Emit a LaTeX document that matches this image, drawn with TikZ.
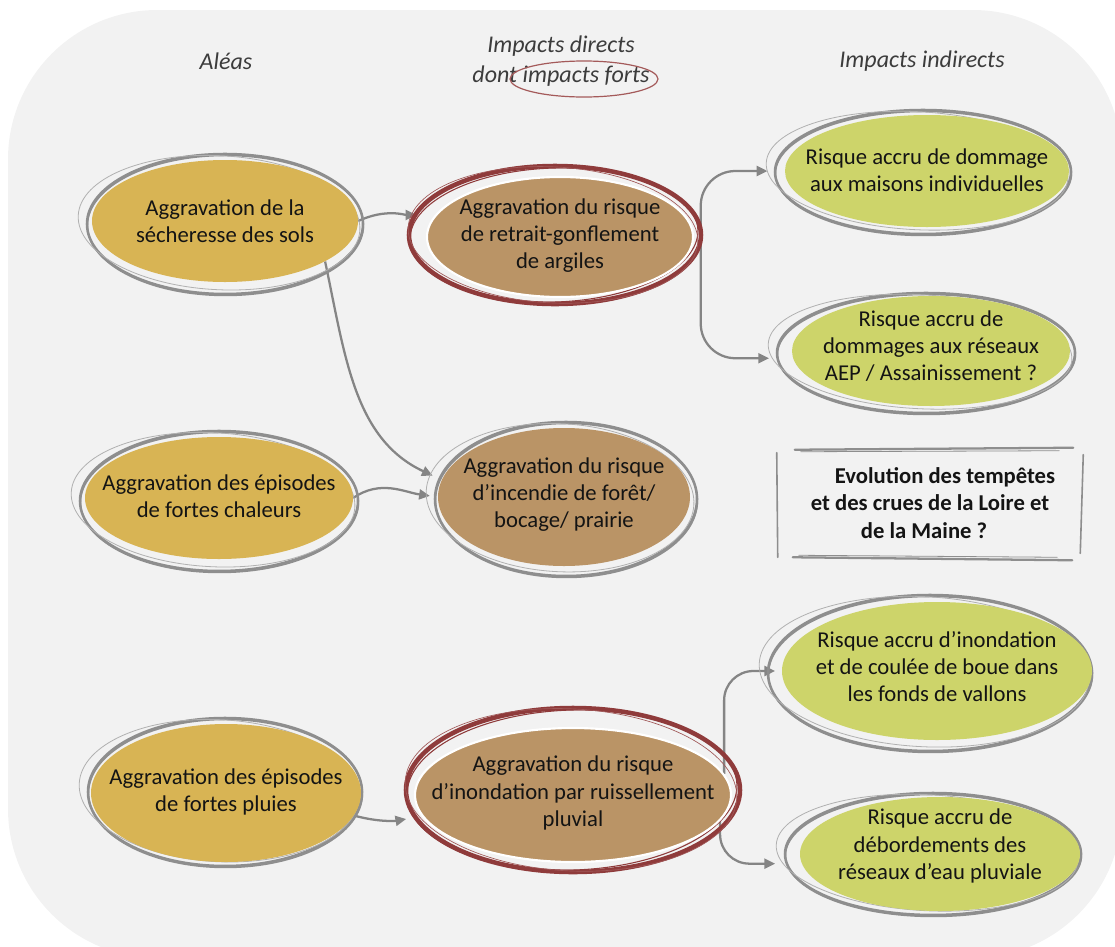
\documentclass[tikz,border=0pt]{standalone}
\usepackage{fontspec}
\setmainfont{Carlito}
\usetikzlibrary{arrows.meta,shapes.geometric,calc}

\definecolor{bgc}{HTML}{F2F2F2}
\definecolor{goldc}{HTML}{D8B454}
\definecolor{brownc}{HTML}{BA9466}
\definecolor{greenc}{HTML}{CDD46A}
\definecolor{redc}{HTML}{8F3B3B}
\definecolor{ringc}{HTML}{8E8E8E}
\definecolor{linkc}{HTML}{858585}
\definecolor{headc}{HTML}{3C3C3C}
\definecolor{txtc}{HTML}{141414}
\definecolor{titlering}{HTML}{A45A5A}

\pgfdeclarelayer{back}
\pgfdeclarelayer{links}
\pgfsetlayers{back,links,main}

\tikzset{
  bubble/.style={ellipse, inner sep=0pt},
  bubbletext/.style={align=center, text=txtc, inner sep=0pt,
    font=\fontsize{17}{20.3}\selectfont},
  strong/.style={draw=white, line width=1.6pt},
  head/.style={align=center, text=headc, inner sep=0pt,
    font=\fontsize{18}{22.5}\selectfont\itshape},
  link/.style={draw=linkc, line width=1.7pt, -{Triangle[length=8pt,width=7.5pt]}},
  boxtext/.style={align=center, text=txtc, inner sep=0pt,
    font=\fontsize{17}{20.8}\selectfont\bfseries},
  frame/.style={draw=ringc, line cap=round},
}

% ellipse: name, cx, cy, x radius, y radius, options, text y, text
\newcommand\bubblenode[8]{%
  \node[bubble, #6, minimum width={#4*1.5pt}, minimum height={#5*1.5pt}] (#1) at (#2,#3) {};
  \node[bubbletext] (#1-t) at (#2,#7) {#8};}

% hand-drawn grey outline: cx, cy, x radius, y radius
\newcommand\grayring[4]{%
  \draw[ringc, line width=1.9pt] (#1,#2) ellipse [x radius=#3, y radius=#4];
  \draw[ringc, line width=1.1pt] (#1+0.5,#2+1.5) ellipse [x radius=#3, y radius=#4];
  \draw[ringc!70, line width=0.6pt, rotate around={-3:(#1,#2)}]
    (#1-6,#2-1) ellipse [x radius=#3+3, y radius=#4-3];}

% hand-drawn dark red outline: cx, cy, x radius, y radius
\newcommand\redring[4]{%
  \draw[redc, line width=3.4pt] (#1,#2) ellipse [x radius=#3, y radius=#4];
  \draw[redc, line width=0.8pt, rotate around={2:(#1,#2)}]
    (#1-1,#2) ellipse [x radius=#3-2, y radius=#4-2];
  \draw[redc!85!white, line width=0.5pt, rotate around={-3:(#1,#2)}]
    (#1-2,#2) ellipse [x radius=#3-1, y radius=#4-1];}

\begin{document}
\begin{tikzpicture}[x=0.75pt, y=-0.75pt]
\useasboundingbox (0,0) rectangle (1115,947);

\begin{pgfonlayer}{back}
  \begin{scope}
    \clip (0,0) rectangle (1115,947);
    \fill[bgc, rounded corners=112pt] (8,10) rectangle (1122,958);
  \end{scope}
\end{pgfonlayer}

% column headings
\node[head] (hA) at (226,61) {Aléas};
\node[head] (hB) at (561,61) {Impacts directs\\dont impacts forts};
\node[head] (hC) at (922,61) {Impacts indirects};
\draw[titlering, line width=0.9pt] (584,79) ellipse [x radius=74, y radius=18];

% outlines
\grayring{225}{224}{138}{70}
\grayring{219}{501}{139}{70}
\grayring{225}{792}{137}{74}
\redring{555}{235}{146}{69}
\grayring{566}{499}{131}{77}
\redring{573}{790}{167}{82}
\grayring{923}{172}{148}{62}
\grayring{926}{353}{149}{60}
\grayring{930}{673}{162}{78}
\grayring{933}{854}{148}{61}

% hazards
\bubblenode{sech}{225}{221}{133}{61}{fill=goldc}{221}{Aggravation de la\\sécheresse des sols}
\bubblenode{chal}{219}{498}{134}{61}{fill=goldc}{496}{Aggravation des épisodes\\de fortes chaleurs}
\bubblenode{pluie}{226}{793}{135}{69}{fill=goldc}{792}{Aggravation des épisodes\\de fortes pluies}

% direct impacts
\bubblenode{retr}{560}{237}{133}{60}{fill=brownc, strong}{236}{Aggravation du risque\\de retrait-gonflement\\de argiles}
\bubblenode{inc}{564}{497}{126}{69}{fill=brownc}{495}{Aggravation du risque\\d’incendie de forêt/\\bocage/ prairie}
\bubblenode{ruis}{573}{795}{158}{67}{fill=brownc, strong}{793}{Aggravation du risque\\d’inondation par ruissellement\\pluvial}

% indirect impacts
\bubblenode{mais}{927}{171}{142}{56}{fill=greenc}{170}{Risque accru de dommage\\aux maisons individuelles}
\bubblenode{aep}{931}{351}{139}{55}{fill=greenc}{346}{Risque accru de\\dommages aux réseaux\\AEP / Assainissement ?}
\bubblenode{vall}{937}{671}{155}{69}{fill=greenc}{667}{Risque accru d’inondation\\et de coulée de boue dans\\les fonds de vallons}
\bubblenode{pluv}{940}{854}{140}{57}{fill=greenc}{846}{Risque accru de\\débordements des\\réseaux d’eau pluviale}

% open question box
\node[boxtext, minimum width=229.5pt, minimum height=82.5pt] (tbox) at (930,503)
  {\hspace*{22.5pt}Evolution des tempêtes\\et des crues de la Loire et\hspace*{9pt}\\de la Maine ?\hspace*{9pt}};
\draw[frame, line width=1.7pt] ($(tbox.north west)+(18,2)$) -- ($(tbox.north east)+(-10,0)$);
\draw[frame, line width=0.6pt] ($(tbox.north west)+(24,4)$) -- ($(tbox.north east)+(-24,3)$);
\draw[frame, line width=1.7pt] ($(tbox.south west)+(16,-1)$) -- ($(tbox.south east)+(-11,2)$);
\draw[frame, line width=0.6pt] ($(tbox.south west)+(22,-3)$) -- ($(tbox.south east)+(-26,-1)$);
\draw[frame, line width=1.2pt] ($(tbox.north west)+(0,5)$) -- ($(tbox.south west)+(1,-1)$);
\draw[frame, line width=1.2pt] ($(tbox.north east)+(0,7)$) -- ($(tbox.south east)+(-3,-5)$);

% connectors
\begin{pgfonlayer}{links}
  \draw[link, shorten >=14pt] (sech.east) to[out=25, in=180] (retr.170);
  \draw[link, shorten >=7.5pt] (sech.-22) to[out=-78, in=155] (inc.172);
  \draw[link, shorten >=6pt] (chal.east) to[out=35, in=172] (inc.west);
  \draw[link, rounded corners=26pt, shorten >=13pt] ([xshift=5pt]retr.east) |- (mais.west);
  \draw[link, rounded corners=26pt, shorten >=18pt] ([xshift=5pt]retr.east) |- (aep.183);
  \draw[link, rounded corners=22pt, shorten >=5pt] (ruis.8) |- (vall.west);
  \draw[link, rounded corners=22pt, shorten >=20pt] (ruis.-10) |- (pluv.184);
  \draw[link, shorten >=12pt] (pluie.-10) to[out=-15, in=190] (ruis.188);
\end{pgfonlayer}
\end{tikzpicture}
\end{document}
